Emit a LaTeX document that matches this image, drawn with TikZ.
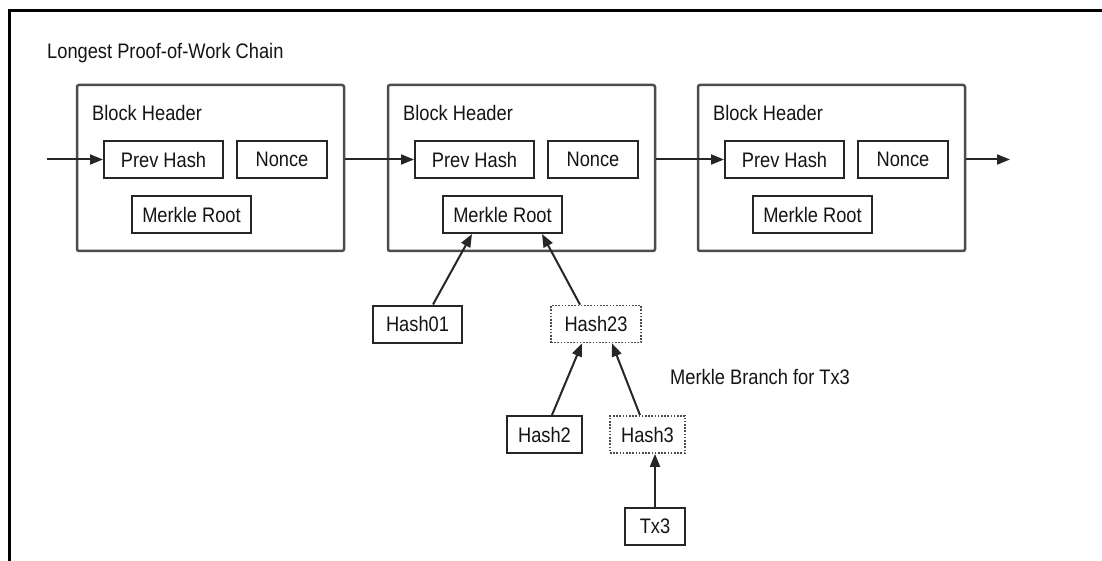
\documentclass[tikz,border=0pt]{standalone}
\usepackage{fontspec}
\setmainfont{Liberation Sans}[FakeStretch=0.87]
\usetikzlibrary{arrows.meta,calc}

\begin{document}
\begin{tikzpicture}[x=1pt,y=-1pt,
  every node/.style={font=\fontsize{21}{25}\selectfont, text=black!92},
  blockbox/.style={draw=black!70, line width=2.5pt, rounded corners=2pt,
    minimum width=267pt, minimum height=166pt, inner sep=0pt},
  field/.style={draw=black!85, line width=2pt, minimum height=37pt, inner sep=0pt},
  branch/.style={draw=black!70, line width=1.7pt, dash pattern=on 1.6pt off 1.6pt,
    minimum height=37pt, inner sep=0pt},
  link/.style={draw=black!85, line width=2pt, -{Triangle[length=13pt,width=10pt]}},
  caption/.style={anchor=west, inner sep=0pt}
]
\useasboundingbox (0,0) rectangle (1102,561);

% page frame (top and left edges)
\draw[line width=3pt, black] (9.5,561) -- (9.5,11) -- (1102,11);

\node[caption] (title) at (47,53) {Longest Proof-of-Work Chain};

% three block headers of the chain
\foreach \i/\L in {1/77, 2/388, 3/698} {
  \node[blockbox] (B\i) at (\L+133.5,168) {};
  \node[caption] (BH\i) at (\L+15,113) {Block Header};
  \node[field, minimum width=119pt] (P\i) at (\L+86.5,159.5) {Prev Hash};
  \node[field, minimum width=90pt] (N\i) at (\L+205,159.5) {Nonce};
  \node[field, minimum width=119pt] (M\i) at (\L+114.5,214.5) {Merkle Root};
}

% Merkle tree below the middle block
\node[field, minimum width=89pt] (h01) at (417.5,324) {Hash01};
\node[branch, minimum width=90pt] (h23) at (596,324) {Hash23};
\node[field, minimum width=75pt] (h2) at (544.5,434.5) {Hash2};
\node[branch, minimum width=75pt] (h3) at (647.5,434.5) {Hash3};
\node[field, minimum width=60pt] (tx3) at (655,526.5) {Tx3};
\node[caption] (mb) at (670,377) {Merkle Branch for Tx3};

% chain links
\coordinate (cin) at (47,159.5);
\coordinate (cout) at (1010,159.5);
\draw[link] (cin) -- (P1.west);
\draw[link] (B1.east |- P2.west) -- (P2.west);
\draw[link] (B2.east |- P3.west) -- (P3.west);
\draw[link] (B3.east |- P3.west) -- (cout);

% tree links
\draw[link] ($(h01.north)+(15.5,0)$) -- ($(M2.south)+(-30.5,0)$);
\draw[link] ($(h23.north)+(-16,0)$) -- ($(M2.south)+(39.5,0)$);
\draw[link] ($(h2.north)+(7.5,0)$) -- ($(h23.south)+(-14,0)$);
\draw[link] ($(h3.north)+(-7.5,0)$) -- ($(h23.south)+(16,0)$);
\draw[link] (tx3.north) -- (h3.south -| tx3.north);
\end{tikzpicture}
\end{document}
